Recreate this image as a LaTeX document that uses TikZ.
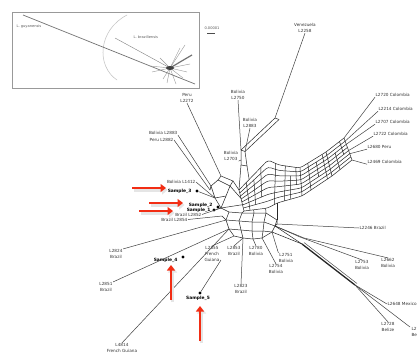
\documentclass[tikz,border=0pt]{standalone}
\usepackage{fontspec}
\setmainfont{DejaVu Sans}
\usetikzlibrary{arrows.meta,calc}
\definecolor{arrred}{RGB}{242,45,20}
\tikzset{
 lbl/.style={font=\fontsize{4.2}{5.8}\selectfont, inner sep=0.4pt, align=center, text=black!80},
 insetlbl/.style={font=\fontsize{3.6}{4.5}\selectfont, inner sep=0.4pt, text=black!65},
 samp/.style={font=\bfseries\fontsize{4.4}{5.8}\selectfont, inner sep=0.4pt, text=black},
 net/.style={line width=0.5pt, draw=black!85},
 leaf/.style={line width=0.5pt, draw=black!75},
 sdot/.style={circle, fill=black, inner sep=0pt, minimum size=3.2pt},
 redarrow/.style={line width=2.8pt, draw=arrred, -{Triangle[length=5.5pt,width=8pt]}},
 shadowarrow/.style={line width=3.4pt, draw=black!10, -{Triangle[length=5.5pt,width=9pt]}},
}
\begin{document}
\begin{tikzpicture}[x=1pt,y=-1pt]
\useasboundingbox (0,0) rectangle (417,353);
\fill[white] (0,0) rectangle (417,353);

% ---------- inset ----------
\draw[draw=black!40, line width=0.9pt] (12,12) rectangle (199,88);
\node[insetlbl, anchor=west] (lguy) at (16,27) {L. guyanensis};
\node[insetlbl, anchor=west] (lbraz) at (133,37) {L. braziliensis};
\coordinate (ig) at (23,15);
\coordinate (ic) at (170,68);
\draw[black!25, line width=0.5pt] (127,15) .. controls (98,30) and (96,66) .. (117,80);
\draw[black!55, line width=0.7pt] (ig) -- (195,84);
\draw[black!50, line width=0.4pt] (115,38) -- (ic);
\foreach \p in {(185,45),(180,48),(152,72),(163,79),(167,83),(187,72),(160,58),(176,84),(190,64),(150,66),(183,78)}
  \draw[black!40, line width=0.4pt] (ic) -- \p;
\draw[black!55, line width=1.2pt] (ic) .. controls (180,62) .. (192,55);
\fill[black!75] (ic) ellipse (4pt and 2pt);
\node[insetlbl] (scale) at (212,28) {0.00001};
\draw[line width=0.6pt, black!70] (207,33) -- (215,33);

% ---------- labels ----------
\node[lbl] (ven) at (305,28) {Venezuela\\L2258};
\node[lbl] (p2272) at (187,98) {Peru\\L2272};
\node[lbl] (b2750) at (238,95) {Bolivia\\L2750};
\node[lbl] (b2883r) at (250,123) {Bolivia\\L2883};
\node[lbl] (b2703) at (231,156) {Bolivia\\L2703};
\node[lbl, anchor=east] (b2883l) at (178,133) {Bolivia L2883};
\node[lbl, anchor=east] (p2882) at (174,140) {Peru L2882};
\node[lbl, anchor=east] (b1412) at (196,182) {Bolivia L1412};
\node[samp, anchor=east] (s3) at (192,191) {Sample\_3};
\node[sdot] (d3) at (197,191) {};
\node[samp, anchor=east] (s2) at (213,205) {Sample\_2};
\node[samp, anchor=east] (s1) at (211,210) {Sample\_1};
\node[sdot] (d2) at (218,207) {};
\node[sdot] (d1) at (214,210) {};
\node[lbl, anchor=east] (br2852) at (202,214.5) {Brazil L2852};
\node[lbl, anchor=east] (br2854) at (188,219.5) {Brazil L2854};
\node[lbl] (l2824) at (116,254) {L2824\\Brazil};
\node[samp, anchor=east] (s4) at (178,260) {Sample\_4};
\node[sdot] (d4) at (183,257) {};
\node[lbl] (l2855) at (212,254) {L2855\\French\\Guiana};
\node[lbl] (l2853) at (234,251) {L2853\\Brazil};
\node[lbl] (l2780) at (256,251) {L2780\\Bolivia};
\node[lbl] (l2751) at (286,258) {L2751\\Bolivia};
\node[lbl] (l2754) at (276,269) {L2754\\Bolivia};
\node[lbl] (l2823) at (241,289) {L2823\\Brazil};
\node[lbl] (l2851) at (106,287) {L2851\\Brazil};
\node[samp] (s5) at (198,298) {Sample\_5};
\node[sdot] (d5) at (200,293) {};
\node[lbl] (l4814) at (122,348) {L4814\\French Guiana};
\node[lbl, anchor=west] (l2246) at (359,228) {L2246 Brazil};
\node[lbl] (l2753) at (362,265) {L2753\\Bolivia};
\node[lbl] (l2662) at (388,263) {L2662\\Bolivia};
\node[lbl, anchor=west] (l2648) at (387,304) {L2648 Mexico};
\node[lbl] (l2728) at (388,327) {L2728\\Belize};
\node[lbl, anchor=west, align=left] (l2729) at (411,332) {L2729\\Belize};
\node[lbl, anchor=west] (c2720) at (375,95) {L2720 Colombia};
\node[lbl, anchor=west] (c2214) at (378,109) {L2214 Colombia};
\node[lbl, anchor=west] (c2707) at (375,122) {L2707 Colombia};
\node[lbl, anchor=west] (c2722) at (373,134) {L2722 Colombia};
\node[lbl, anchor=west] (p2680) at (367,147) {L2680 Peru};
\node[lbl, anchor=west] (c2469) at (367,162) {L2469 Colombia};

% ---------- big bent band ----------
\coordinate (I0) at (239,190); \coordinate (O0) at (244,211);
\coordinate (I1) at (268,160); \coordinate (O1) at (268,208);
\coordinate (I2) at (279,165); \coordinate (O2) at (277,203);
\coordinate (I3) at (300,168); \coordinate (O3) at (302,196);
\coordinate (I4) at (326,152); \coordinate (O4) at (332,176);
\coordinate (I5) at (344,138); \coordinate (O5) at (352,160);
\foreach \k in {0,...,7} {
  \pgfmathsetmacro\t{\k/7}
  \draw[net, rounded corners=3pt] ($(I0)!\t!(O0)$) -- ($(I1)!\t!(O1)$) -- ($(I2)!\t!(O2)$)
     -- ($(I3)!\t!(O3)$) -- ($(I4)!\t!(O4)$) -- ($(I5)!\t!(O5)$);
}
\draw[net] (I0) -- (O0);
\draw[net] (I5) -- (O5);
\draw[net] (I3) -- (O3);
\draw[net] (I4) -- (O4);
\foreach \a/\b/\f/\lo/\hi in {0/1/0.25/0/1, 0/1/0.5/0.14/0.86, 0/1/0.75/0/0.72, 1/2/0.7/0/1,
   2/3/0.3/0/1, 2/3/0.55/0.28/1, 2/3/0.8/0/0.58, 3/4/0.3/0/1, 3/4/0.6/0.14/0.72,
   3/4/0.85/0/1, 4/5/0.4/0.28/1, 4/5/0.75/0/0.58} {
  \coordinate (ru) at ($(I\a)!\f!(I\b)$);
  \coordinate (rd) at ($(O\a)!\f!(O\b)$);
  \draw[net] ($(ru)!\lo!(rd)$) -- ($(ru)!\hi!(rd)$);
}
% Colombia leaves
\draw[leaf] ($(I5)!0!(O5)$) -- (c2720.south west);
\draw[leaf] ($(I5)!0.143!(O5)$) -- (c2214.south west);
\draw[leaf] ($(I5)!0.286!(O5)$) -- (c2707.south west);
\draw[leaf] ($(I5)!0.571!(O5)$) -- (c2722.south west);
\draw[leaf] ($(I5)!0.714!(O5)$) -- (p2680.south west);
\draw[leaf] ($(I5)!1!(O5)$) -- (c2469.south west);

% ---------- Venezuela arm ----------
\coordinate (v1) at (275,118);
\coordinate (v2) at (279,119.5);
\coordinate (bx1) at (241,150);
\coordinate (bx2) at (245,151.5);
\coordinate (bx3) at (247,166);
\coordinate (bx4) at (241,165);
\draw[leaf] (ven.south) -- (v1);
\draw[net] (v1) -- (v2);
\draw[net] (v1) -- (bx1);
\draw[net] (v2) -- (bx2);
\draw[net] (bx1) -- (bx2) -- (bx3) -- (bx4) -- cycle;
\draw[leaf] (b2750.south) -- (bx1);
\draw[leaf] (b2883r.south) -- (bx2);
\draw[leaf] (b2703.south east) -- (241,160);
\draw[net] (bx4) -- (I0);
\draw[net] (bx3) -- ($(I0)!0.35!(I1)$);

% ---------- upper-left cluster ----------
\coordinate (a1) at (211,186);
\coordinate (a2) at (218,180);
\coordinate (a3) at (230,186);
\coordinate (a4) at (226,196);
\coordinate (a5) at (215,198);
\draw[net] (a1) -- (a2) -- (a3) -- (a4) -- (a5) -- cycle;
\draw[net] (a2) -- (221,176) -- (233,181) -- (a3);
\draw[net] (233,181) -- (I0);
\draw[net] (a3) -- ($(I0)!0.4!(O0)$);
\draw[leaf] (p2272.south) -- (221,176);
\draw[leaf] (b2883l.south east) -- (a1);
\draw[leaf] (p2882.east) -- (210,190);
\draw[net] (210,190) -- (a1);
\draw[leaf] (b1412.east) -- (a5);
\draw[leaf] (d3) -- (a5);

% ---------- hub ----------
\coordinate (h) at (221,208);
\draw[net] (a5) -- (h) -- (a4);
\draw[net] (h) -- ($(I0)!0.7!(O0)$);
\draw[leaf] (d2) -- (h);
\draw[leaf] (d1) -- (h);
\draw[leaf] (br2852.east) -- (h);
\draw[leaf] (br2854.east) -- (222,216);

% ---------- lower cluster grid ----------
\coordinate (g00) at (229,212); \coordinate (g10) at (242,213); \coordinate (g20) at (254,213); \coordinate (g30) at (266,213); \coordinate (g40) at (277,220);
\coordinate (g01) at (226,220); \coordinate (g11) at (239,221); \coordinate (g21) at (252,222); \coordinate (g31) at (264,222); \coordinate (g41) at (275,226);
\coordinate (g02) at (229,229); \coordinate (g12) at (241,230); \coordinate (g22) at (252,231); \coordinate (g32) at (263,231); \coordinate (g42) at (272,232);
\coordinate (g03) at (234,236); \coordinate (g13) at (243,238); \coordinate (g23) at (253,239); \coordinate (g33) at (262,238);
\draw[net] (h) -- (g00) -- (g10) -- (g20) -- (g30) -- (g40);
\draw[net] (222,216) -- (g01) -- (g11) -- (g21) -- (g31) -- (g41);
\draw[net] (g02) -- (g12) -- (g22) -- (g32) -- (g42);
\draw[net] (g03) -- (g13) -- (g23) -- (g33) -- (g42);
\draw[net] (g00) -- (g01) -- (g02) -- (g03);
\draw[net] (g10) -- (g11) -- (g12) -- (g13);
\draw[net] (g20) -- (g21) -- (g22) -- (g23);
\draw[net] (g30) -- (g31) -- (g32) -- (g33);
\draw[net] (g40) -- (g41) -- (g42);
\draw[net] (g10) -- (O0);
\draw[net] (g20) -- ($(O0)!0.4!(O1)$);
\draw[net] (g30) -- ($(O0)!0.9!(O1)$);
\draw[net] (g40) -- (O2);
\coordinate (j) at (277,224);
\draw[net] (g40) -- (j) -- (g41);

% ---------- leaves from lower cluster ----------
\draw[leaf] (l2824.north east) -- (g01);
\draw[leaf] (l2851.north east) -- (g02);
\draw[leaf] (l4814.north) -- (g02);
\draw[leaf] (d5) -- (221,260);
\draw[leaf] (l2855.north) -- (g03);
\draw[leaf] (l2853.north) -- (g13);
\draw[leaf] (l2780.north) -- (g23);
\draw[leaf] (l2823.north) -- (g13);
\draw[leaf] (l2754.north) -- (g33);
\draw[leaf] (l2751.north west) -- (g42);

% ---------- lower-right ----------
\draw[leaf] (j) -- (l2246.west);
\draw[leaf] (g41) -- (300,237) -- (l2753.north);
\draw[leaf] (g41) -- (304,238) -- (l2662.north);
\coordinate (t0) at (302,244);
\coordinate (t1) at (355,285);
\draw[net] (g42) -- (t0);
\draw[net] (g41) -- (t0);
\draw[line width=1.3pt, black!85] (t0) -- (t1);
\draw[line width=0.5pt, black!70] (304,242.5) -- (357,283.5);
\draw[leaf] (t1) -- (l2648.west);
\draw[leaf] (t1) -- (l2728.north);
\draw[leaf] (t1) -- (410,327);

% ---------- arrows ----------
\coordinate (ra1) at (132,188); \coordinate (rb1) at (166,188);
\coordinate (ra2) at (149,203); \coordinate (rb2) at (183,203);
\coordinate (ra3) at (139,211); \coordinate (rb3) at (173,211);
\coordinate (ra4) at (171,300); \coordinate (rb4) at (171,265);
\coordinate (ra5) at (200,341); \coordinate (rb5) at (200,306);
\foreach \i in {1,...,5} \draw[shadowarrow] ([shift={(1.5,2)}]ra\i) -- ([shift={(1.5,2)}]rb\i);
\foreach \i in {1,...,5} \draw[redarrow] (ra\i) -- (rb\i);
\end{tikzpicture}
\end{document}
